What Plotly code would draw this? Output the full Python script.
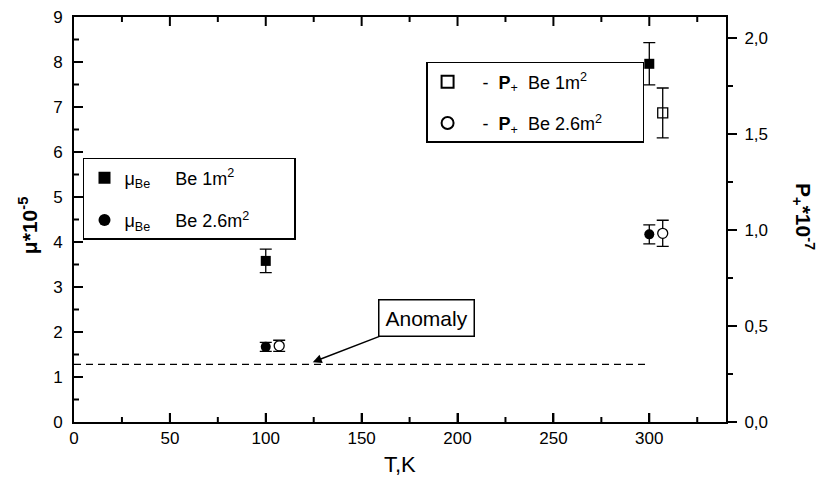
import plotly.graph_objects as go

# ---- data ----
T_mu = [100, 300]
mu_be1 = [3.58, 7.96]
mu_be1_err = [0.26, 0.47]
mu_be26 = [1.67, 4.17]
mu_be26_err = [0.10, 0.21]

T_p1 = [307]
p_be1 = [1.61]
p_be1_err = [0.13]
T_p26 = [107, 307]
p_be26 = [0.397, 0.983]
p_be26_err = [0.029, 0.068]

anomaly_x = [0, 300]
anomaly_y = [1.28, 1.28]

# axis tick values (inward ticks)
X_RANGE = [0, 340]
Y_RANGE = [0, 9]
x_major = [50, 100, 150, 200, 250, 300]
x_minor = [25, 75, 125, 175, 225, 275, 325]
y_major = [1, 2, 3, 4, 5, 6, 7, 8]
y_minor = [0.5, 1.5, 2.5, 3.5, 4.5, 5.5, 6.5, 7.5, 8.5]

FONT = "Liberation Sans, Arial, sans-serif"
NB = "\u00a0"

fig = go.Figure()

fig.add_trace(go.Scatter(
    x=anomaly_x, y=anomaly_y, mode="lines", showlegend=False,
    line=dict(color="black", width=1.2, dash="7px,5px"), hoverinfo="skip"))

fig.add_trace(go.Scatter(
    x=T_mu, y=mu_be1, mode="markers",
    name=f"μ<sub>Be</sub>{NB*5}Be 1m<sup>2</sup>{NB*8}",
    marker=dict(symbol="square", size=10, color="black"),
    error_y=dict(type="data", array=mu_be1_err, color="black", thickness=1.3, width=6),
    legend="legend", legendgroup="a"))
fig.add_trace(go.Scatter(
    x=T_mu, y=mu_be26, mode="markers",
    name=f"μ<sub>Be</sub>{NB*5}Be 2.6m<sup>2</sup>{NB*8}",
    marker=dict(symbol="circle", size=10, color="black"),
    error_y=dict(type="data", array=mu_be26_err, color="black", thickness=1.3, width=6),
    legend="legend", legendgroup="b"))
fig.add_trace(go.Scatter(
    x=T_p1, y=p_be1, mode="markers", yaxis="y2",
    name=f"{NB*3}-{NB*2}<b>P</b><sub>+</sub>{NB*2}Be 1m<sup>2</sup>{NB*7}",
    marker=dict(symbol="square-open", size=10, color="black", line=dict(width=1.3)),
    error_y=dict(type="data", array=p_be1_err, color="black", thickness=1.3, width=6),
    legend="legend2", legendgroup="c"))
fig.add_trace(go.Scatter(
    x=T_p26, y=p_be26, mode="markers", yaxis="y2",
    name=f"{NB*3}-{NB*2}<b>P</b><sub>+</sub>{NB*2}Be 2.6m<sup>2</sup>{NB*7}",
    marker=dict(symbol="circle", size=10, color="white", line=dict(width=1.3, color="black")),
    error_y=dict(type="data", array=p_be26_err, color="black", thickness=1.3, width=6),
    legend="legend2", legendgroup="d"))

# inward tick marks as shapes in data coordinates (lengths in px converted via axis scale)
PLOT_W, PLOT_H = 652.0, 405.0
px_x = (X_RANGE[1] - X_RANGE[0]) / PLOT_W   # data units per pixel (x)
px_y = (Y_RANGE[1] - Y_RANGE[0]) / PLOT_H   # data units per pixel (y)
tick_line = dict(color="black", width=2)
shapes = []
for vals, L in ((x_major, 9), (x_minor, 5)):
    for v in vals:
        shapes.append(dict(type="line", xref="x", yref="y", x0=v, x1=v,
                           y0=Y_RANGE[0], y1=Y_RANGE[0] + L * px_y, line=tick_line, layer="above"))
        shapes.append(dict(type="line", xref="x", yref="y", x0=v, x1=v,
                           y0=Y_RANGE[1], y1=Y_RANGE[1] - L * px_y, line=tick_line, layer="above"))
for vals, L in ((y_major, 9), (y_minor, 5)):
    for v in vals:
        shapes.append(dict(type="line", xref="x", yref="y", y0=v, y1=v,
                           x0=X_RANGE[0], x1=X_RANGE[0] + L * px_x, line=tick_line, layer="above"))

fig.update_layout(
    width=823, height=482,
    margin=dict(l=74, r=97, t=17, b=60, autoexpand=False),
    paper_bgcolor="white", plot_bgcolor="white",
    separators=",.",
    font=dict(family=FONT, size=17, color="black"),
    xaxis=dict(
        range=X_RANGE, dtick=50, tick0=0, ticks="inside", ticklen=9, tickwidth=2,
        tickcolor="black", showline=True, linewidth=2, linecolor="black", mirror=True,
        showgrid=False, zeroline=False,
    ),
    yaxis=dict(
        range=Y_RANGE, dtick=1, tick0=0, ticks="inside", ticklen=9, tickwidth=2,
        tickcolor="black", showline=True, linewidth=2, linecolor="black", mirror=False,
        ticklabelstandoff=6, showgrid=False, zeroline=False,
    ),
    yaxis2=dict(
        range=[0, 2.11], dtick=0.5, tick0=0, tickformat=".1f", overlaying="y", side="right",
        ticks="outside", ticklen=9, tickwidth=2, tickcolor="black",
        showline=True, linewidth=2, linecolor="black", showgrid=False, zeroline=False,
        ticklabelstandoff=4,
        minor=dict(dtick=0.25, ticks="outside", ticklen=5, tickwidth=2, tickcolor="black"),
    ),
    shapes=shapes,
    legend=dict(
        x=0.0138, y=0.652, xanchor="left", yanchor="top",
        bordercolor="black", borderwidth=1.5, bgcolor="white",
        font=dict(size=18), tracegroupgap=16, itemsizing="constant",
    ),
    legend2=dict(
        x=0.54, y=0.889, xanchor="left", yanchor="top",
        bordercolor="black", borderwidth=1.5, bgcolor="white",
        font=dict(size=18), tracegroupgap=15, itemsizing="constant",
    ),
    annotations=[
        dict(
            x=124.5, y=1.33, xref="x", yref="y", text="Anomaly",
            showarrow=True, arrowhead=2, arrowsize=1.2, arrowwidth=1.5, arrowcolor="black",
            ax=114, ay=-44, bordercolor="black", borderwidth=1.5, borderpad=6,
            bgcolor="white", font=dict(size=21),
        ),
        dict(
            x=1.1196, y=0.506, xref="paper", yref="paper", xanchor="center", yanchor="middle",
            text="<b>P<sub>+</sub>*10<sup>-7</sup></b>", textangle=90,
            showarrow=False, font=dict(size=21),
        ),
        dict(
            x=-0.0706, y=0.486, xref="paper", yref="paper", xanchor="center", yanchor="middle",
            text="<b>μ*10<sup>-5</sup></b>", textangle=-90,
            showarrow=False, font=dict(size=21),
        ),
        dict(
            x=0.5, y=-0.106, xref="paper", yref="paper", xanchor="center", yanchor="middle",
            text="T,K", showarrow=False, font=dict(size=22),
        ),
    ],
)

fig.write_html("out.html")
